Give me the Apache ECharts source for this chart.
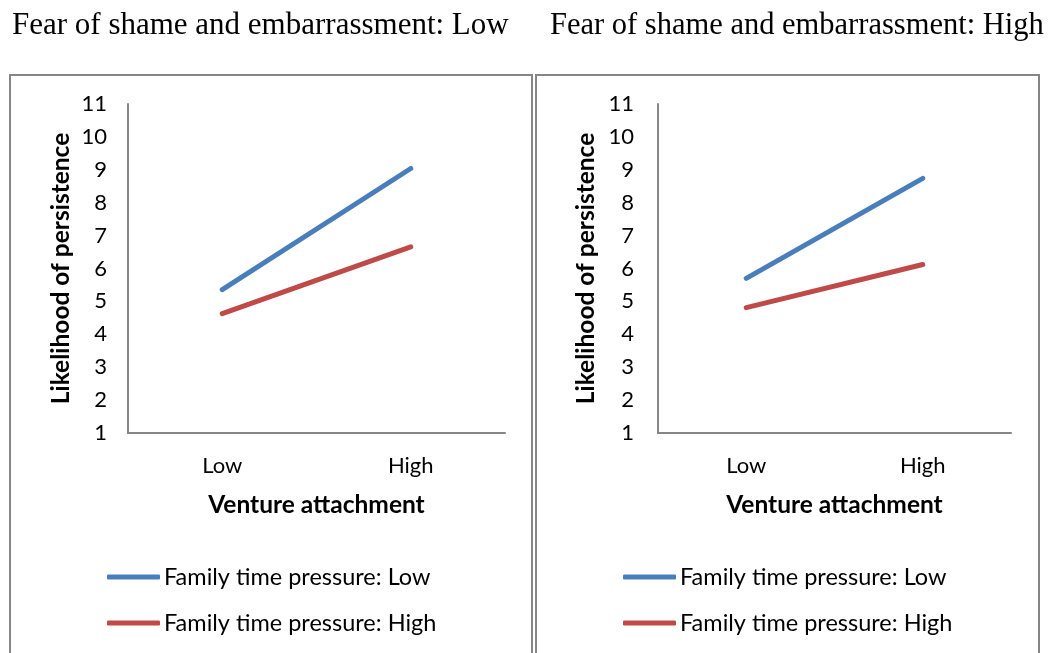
<!DOCTYPE html>
<html>
<head>
<meta charset="utf-8">
<script src="https://cdn.jsdelivr.net/npm/echarts@6/dist/echarts.min.js"></script>
<style>
  html, body { margin: 0; padding: 0; background: #fff; }
  #chart { width: 1062px; height: 653px; }
</style>
</head>
<body>
<div id="chart"></div>
<script>
// venture attachment levels on the x axis
const categories = ['Low', 'High']
const panelTitles = ['Fear of shame and embarrassment: Low', 'Fear of shame and embarrassment: High']
const seriesNames = ['Family time pressure: Low', 'Family time pressure: High']

// fear of shame: Low
const lowFearLowPressure = [5.36, 9.04]
const lowFearHighPressure = [4.63, 6.66]
// fear of shame: High
const highFearLowPressure = [5.70, 8.74]
const highFearHighPressure = [4.81, 6.12]

const blue = '#4a7ebb'
const red = '#be4b48'
const axisGray = '#868686'
const sans = 'Lato, "Open Sans", sans-serif'
const serif = '"Liberation Serif", serif'

let myChart = echarts.init(document.getElementById('chart'))

function xAxis(idx) {
  return {
    type: 'category',
    gridIndex: idx,
    data: categories,
    axisLine: { lineStyle: { color: axisGray, width: 2 } },
    axisTick: { show: false },
    axisLabel: { color: '#000', fontSize: 22, fontFamily: sans, margin: 22 },
    name: 'Venture attachment',
    nameLocation: 'middle',
    nameGap: 60,
    nameTextStyle: { color: '#000', fontSize: 24.5, fontWeight: 'bold', fontFamily: sans }
  }
}

function yAxis(idx, labelGap, nameGap) {
  return {
    type: 'value',
    gridIndex: idx,
    min: 1,
    max: 11,
    interval: 1,
    axisLine: { show: true, lineStyle: { color: axisGray, width: 2 } },
    axisTick: { show: false },
    splitLine: { show: false },
    axisLabel: { color: '#000', fontSize: 22, fontFamily: sans, margin: labelGap },
    name: 'Likelihood of persistence',
    nameLocation: 'middle',
    nameGap: nameGap,
    nameTextStyle: { color: '#000', fontSize: 24.5, fontWeight: 'bold', fontFamily: sans }
  }
}

function line(name, data, idx, color) {
  return {
    type: 'line',
    name: name,
    xAxisIndex: idx,
    yAxisIndex: idx,
    data: data,
    symbol: 'none',
    color: color,
    lineStyle: { color: color, width: 5, cap: 'round' }
  }
}

function legend(left) {
  return {
    data: seriesNames,
    orient: 'vertical',
    left: left,
    top: 565,
    padding: 0,
    icon: 'roundRect',
    itemWidth: 53,
    itemHeight: 5,
    itemGap: 22,
    selectedMode: false,
    textStyle: { color: '#000', fontSize: 23.5, fontFamily: sans, lineHeight: 24, padding: [0, 0, 0, -1] }
  }
}

function title(text, left, size) {
  return {
    text: text,
    left: left,
    top: 10,
    padding: 0,
    textStyle: { fontFamily: serif, fontWeight: 'normal', fontSize: size, color: '#000' }
  }
}

myChart.setOption({
  animation: false,
  title: [title(panelTitles[0], 12, 31), title(panelTitles[1], 550, 30.5)],
  grid: [
    { left: 128, top: 104, width: 377, height: 329 },
    { left: 658, top: 104, width: 353, height: 329 }
  ],
  xAxis: [xAxis(0), xAxis(1)],
  yAxis: [yAxis(0, 21, 54), yAxis(1, 24, 59)],
  legend: [legend(107), legend(623)],
  series: [
    line(seriesNames[0], lowFearLowPressure, 0, blue),
    line(seriesNames[1], lowFearHighPressure, 0, red),
    line(seriesNames[0], highFearLowPressure, 1, blue),
    line(seriesNames[1], highFearHighPressure, 1, red)
  ],
  graphic: [
    { type: 'rect', shape: { x: 10, y: 75, width: 522, height: 620 }, style: { fill: 'none', stroke: axisGray, lineWidth: 2 }, silent: true },
    { type: 'rect', shape: { x: 536, y: 75, width: 503, height: 620 }, style: { fill: 'none', stroke: axisGray, lineWidth: 2 }, silent: true }
  ]
})
</script>
</body>
</html>
